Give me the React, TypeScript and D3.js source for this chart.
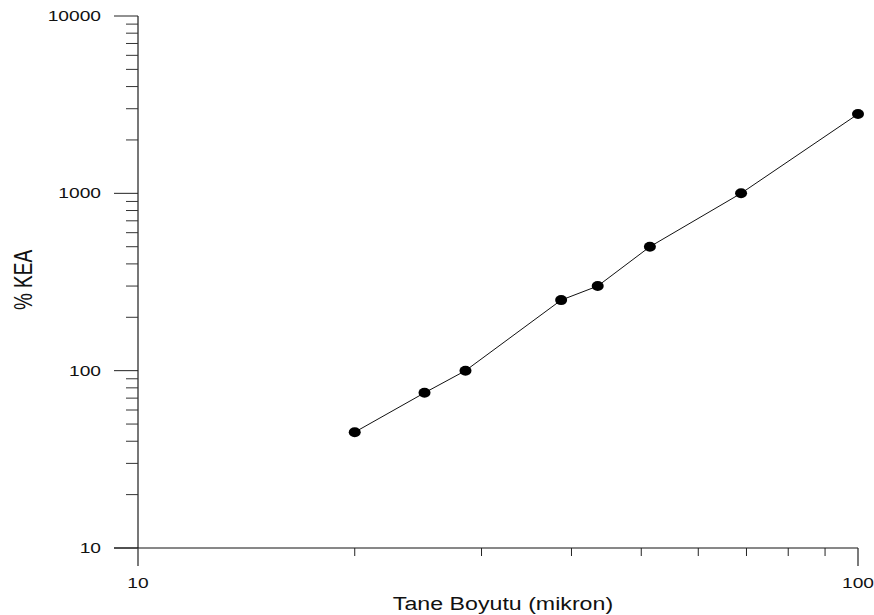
import React from "react";
import * as d3 from "d3";

const sizes = [20, 25, 28.5, 38.7, 43.5, 51.4, 68.8, 100];
const kea = [45, 75, 100, 250, 300, 500, 1000, 2800];
const yMajor = [10, 100, 1000, 10000];
const xMajor = [10, 100];
const xTitle = "Tane Boyutu (mikron)";
const yTitle = "% KEA";

export default function App() {
  const W = 874, H = 615;
  const x = d3.scaleLog().domain([10, 100]).range([138, 858]);
  const y = d3.scaleLog().domain([10, 10000]).range([548, 16]);
  const yMinor: number[] = [];
  for (let d = 10; d < 10000; d *= 10) for (let k = 2; k <= 9; k++) yMinor.push(d * k);
  const xMinor: number[] = [];
  for (let k = 2; k <= 9; k++) xMinor.push(10 * k);
  const line = d3.line<number>().x((_, i) => x(sizes[i])).y((v) => y(v));
  const font = "Arial, 'Liberation Sans', sans-serif";
  const LS = 1.37; // horizontal stretch of tick labels
  const TS = 1.22; // stretch of x title
  const YS = 1.38; // stretch of y title (screen x)
  return (
    <svg width={W} height={H} style={{ position: "absolute", left: 0, top: 0 }}>
      <rect width={W} height={H} fill="#fff" />
      {/* y axis */}
      <line x1={138} x2={138} y1={y(10000)} y2={y(10)} stroke="#555" strokeWidth={1.6} />
      {yMajor.map((v) => (
        <g key={"ym" + v}>
          <line x1={114} x2={138} y1={y(v)} y2={y(v)} stroke="#222" strokeWidth={1} />
          <text
            transform={`translate(101,${y(v) + 5}) scale(${LS},1)`}
            textAnchor="end"
            fontFamily={font}
            fontSize={14}
            fill="#111"
          >
            {v}
          </text>
        </g>
      ))}
      {yMinor.map((v) => (
        <line key={"yn" + v} x1={126} x2={138} y1={y(v)} y2={y(v)} stroke="#333" strokeWidth={1} />
      ))}
      {/* x axis */}
      <line x1={114} x2={858} y1={548} y2={548} stroke="#111" strokeWidth={1} />
      {xMajor.map((v) => (
        <g key={"xm" + v}>
          <line x1={x(v)} x2={x(v)} y1={548} y2={566} stroke="#333" strokeWidth={1.3} />
          <text
            transform={`translate(${x(v)},588) scale(${LS},1)`}
            textAnchor="middle"
            fontFamily={font}
            fontSize={14}
            fill="#111"
          >
            {v}
          </text>
        </g>
      ))}
      {xMinor.map((v) => (
        <line key={"xn" + v} x1={x(v)} x2={x(v)} y1={548} y2={556} stroke="#222" strokeWidth={1} />
      ))}
      <text
        transform={`translate(503,610) scale(${TS},1)`}
        textAnchor="middle"
        fontFamily={font}
        fontSize={19}
        fill="#111"
      >
        {xTitle}
      </text>
      <text
        transform={`translate(32,280) scale(${YS},1) rotate(-90)`}
        textAnchor="middle"
        fontFamily={font}
        fontSize={19}
        fill="#111"
      >
        {yTitle}
      </text>
      <path d={line(kea) || ""} fill="none" stroke="#111" strokeWidth={1} />
      {kea.map((v, i) => (
        <ellipse key={"p" + i} cx={x(sizes[i])} cy={y(v)} rx={6} ry={5} fill="#000" />
      ))}
    </svg>
  );
}
